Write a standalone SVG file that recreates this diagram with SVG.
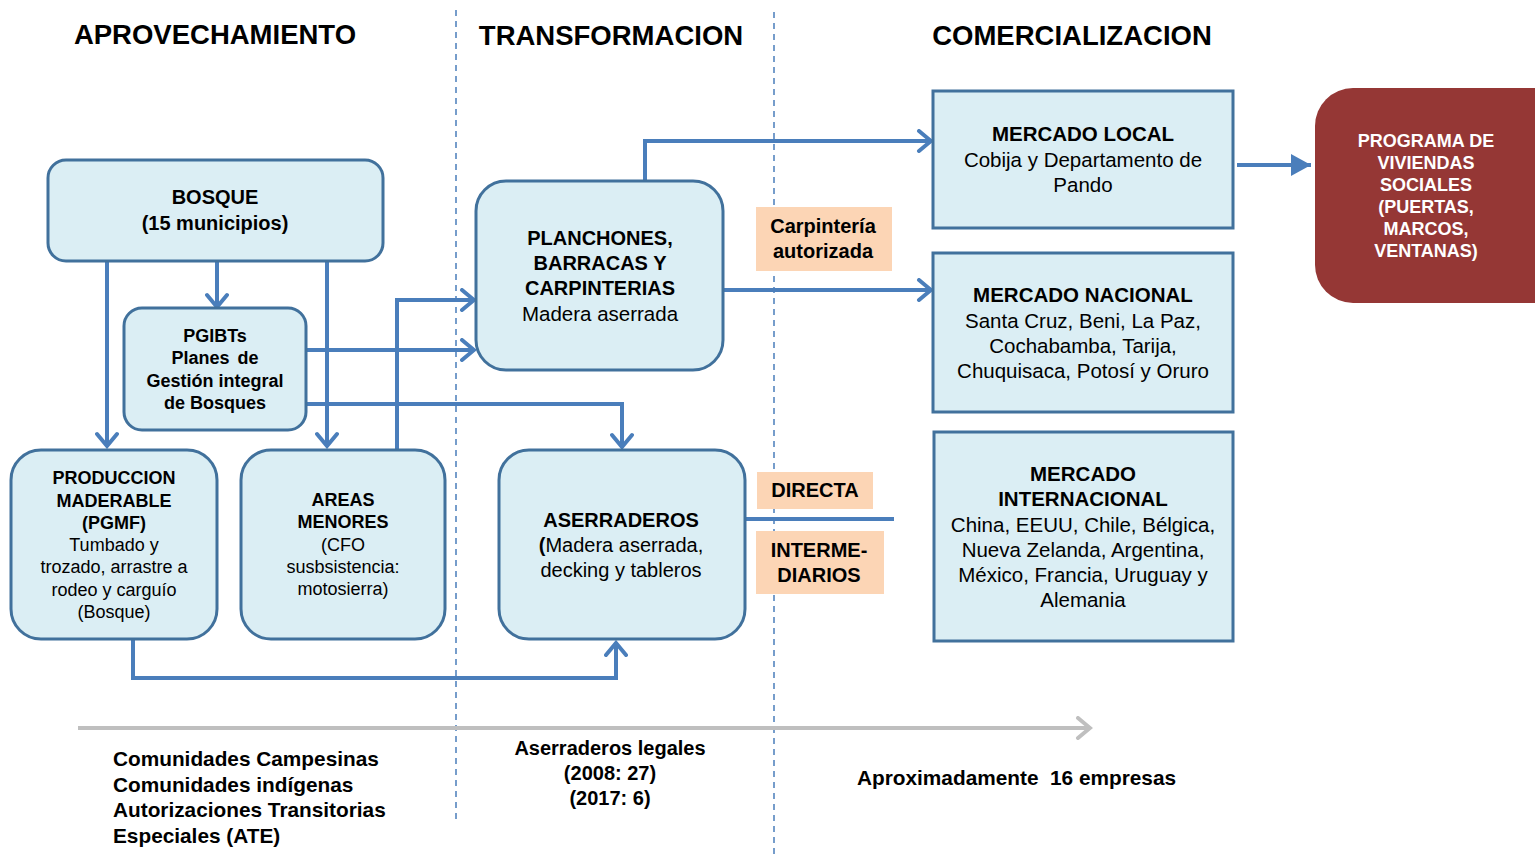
<svg xmlns="http://www.w3.org/2000/svg" width="1535" height="856" viewBox="0 0 1535 856">
<style>
text{font-family:"Liberation Sans",Arial,sans-serif;fill:#000;text-anchor:middle}
.t{font-size:27.5px;font-weight:bold}
.b{font-weight:bold}
.n{fill:#DBEEF4;stroke:#41719C;stroke-width:3}
.lab{fill:#FCD5B5}
.c{fill:none;stroke:#4A7EBB;stroke-width:4}
.dash{stroke:#4A7EBB;stroke-width:1.5;stroke-dasharray:6 5}
.s18{font-size:18px}
.s20{font-size:20px}
.s205{font-size:20.5px}
.bot{font-size:20.8px;font-weight:bold;text-anchor:start}
.w{fill:#fff}
</style>
<defs>
<marker id="ar" viewBox="0 0 24 24" refX="21" refY="12" markerWidth="24" markerHeight="24" markerUnits="userSpaceOnUse" orient="auto">
<path d="M9,2 L21,12 L9,22" fill="none" stroke="#4A7EBB" stroke-width="4" stroke-linecap="round" stroke-linejoin="miter"/>
</marker>
<marker id="tri" viewBox="0 0 24 24" refX="22" refY="12" markerWidth="24" markerHeight="24" markerUnits="userSpaceOnUse" orient="auto">
<path d="M2,1 L22,12 L2,23 Z" fill="#4A7EBB"/>
</marker>
<marker id="gar" viewBox="0 0 24 24" refX="21" refY="12" markerWidth="24" markerHeight="24" markerUnits="userSpaceOnUse" orient="auto">
<path d="M9,2 L21,12 L9,22" fill="none" stroke="#BFBFBF" stroke-width="4" stroke-linecap="round"/>
</marker>
</defs>
<rect width="1535" height="856" fill="#fff"/>

<g id="headers">
<text class="t" x="215" y="44">APROVECHAMIENTO</text>
<text class="t" x="611" y="45">TRANSFORMACION</text>
<text class="t" x="1072" y="45">COMERCIALIZACION</text>
</g>

<g id="dividers">
<line class="dash" x1="456" y1="10" x2="456" y2="822"/>
<line class="dash" x1="774" y1="12" x2="774" y2="856"/>
</g>

<g id="connectors">
<path class="c" d="M107,261 V446" marker-end="url(#ar)"/>
<path class="c" d="M217,261 V307" marker-end="url(#ar)"/>
<path class="c" d="M327,261 V446" marker-end="url(#ar)"/>
<path class="c" d="M306,350 H474" marker-end="url(#ar)"/>
<path class="c" d="M306,404 H622 V447" marker-end="url(#ar)"/>
<path class="c" d="M397,450 V300 H474" marker-end="url(#ar)"/>
<path class="c" d="M133,640 V678 H616 V643" marker-end="url(#ar)"/>
<path class="c" d="M645,181 V141 H931" marker-end="url(#ar)"/>
<path class="c" d="M724,290 H931" marker-end="url(#ar)"/>
<path class="c" d="M745,519 H894"/>
<path class="c" d="M1237,165 H1311" marker-end="url(#tri)"/>
<path d="M78,728 H1090" fill="none" stroke="#BFBFBF" stroke-width="4" marker-end="url(#gar)"/>
</g>

<g id="bosque">
<rect class="n" x="48" y="160" width="335" height="101" rx="18"/>
<text class="b s20" x="215" y="204">BOSQUE</text>
<text class="b s20" x="215" y="230">(15 municipios)</text>
</g>

<g id="pgibts">
<rect class="n" x="124" y="308" width="182" height="122" rx="18"/>
<text class="b s18" x="215" y="342">PGIBTs</text>
<text class="b s18" x="215" y="364" word-spacing="3">Planes de</text>
<text class="b s18" x="215" y="387">Gestión integral</text>
<text class="b s18" x="215" y="409">de Bosques</text>
</g>

<g id="produccion">
<rect class="n" x="11" y="450" width="206" height="189" rx="30"/>
<text class="b s18" x="114" y="484">PRODUCCION</text>
<text class="b s18" x="114" y="507">MADERABLE</text>
<text class="b s18" x="114" y="529">(PGMF)</text>
<text class="s18" x="114" y="551">Tumbado y</text>
<text class="s18" x="114" y="573">trozado, arrastre a</text>
<text class="s18" x="114" y="596">rodeo y carguío</text>
<text class="s18" x="114" y="618">(Bosque)</text>
</g>

<g id="areas">
<rect class="n" x="241" y="450" width="204" height="189" rx="30"/>
<text class="b s18" x="343" y="506">AREAS</text>
<text class="b s18" x="343" y="528">MENORES</text>
<text class="s18" x="343" y="551">(CFO</text>
<text class="s18" x="343" y="573">susbsistencia:</text>
<text class="s18" x="343" y="595">motosierra)</text>
</g>

<g id="planchones">
<rect class="n" x="476" y="181" width="247" height="189" rx="30"/>
<text class="b s20" x="600" y="245">PLANCHONES,</text>
<text class="b s20" x="600" y="270">BARRACAS Y</text>
<text class="b s20" x="600" y="295">CARPINTERIAS</text>
<text class="s205" x="600" y="321">Madera aserrada</text>
</g>

<g id="aserraderos">
<rect class="n" x="499" y="450" width="246" height="189" rx="30"/>
<text class="b s20" x="621" y="527">ASERRADEROS</text>
<text class="s20" x="621" y="552"><tspan class="b">(</tspan>Madera aserrada,</text>
<text class="s20" x="621" y="577">decking y tableros</text>
</g>

<g id="carpinteria-autorizada">
<rect class="lab" x="756" y="207" width="136" height="64"/>
<text class="b s20" x="823" y="233">Carpintería</text>
<text class="b s20" x="823" y="258">autorizada</text>
</g>

<g id="directa">
<rect class="lab" x="757" y="472" width="116" height="37"/>
<text class="b s20" x="815" y="497">DIRECTA</text>
</g>

<g id="intermediarios">
<rect class="lab" x="756" y="531" width="128" height="63"/>
<text class="b s20" x="819" y="557">INTERME-</text>
<text class="b s20" x="819" y="582">DIARIOS</text>
</g>

<g id="mercado-local">
<rect class="n" x="933" y="91" width="300" height="137"/>
<text class="b s205" x="1083" y="141">MERCADO LOCAL</text>
<text class="s205" x="1083" y="167">Cobija y Departamento de</text>
<text class="s205" x="1083" y="192">Pando</text>
</g>

<g id="mercado-nacional">
<rect class="n" x="933" y="253" width="300" height="159"/>
<text class="b s205" x="1083" y="302">MERCADO NACIONAL</text>
<text class="s205" x="1083" y="328">Santa Cruz, Beni, La Paz,</text>
<text class="s205" x="1083" y="353">Cochabamba, Tarija,</text>
<text class="s205" x="1083" y="378">Chuquisaca, Potosí y Oruro</text>
</g>

<g id="mercado-internacional">
<rect class="n" x="934" y="432" width="299" height="209"/>
<text class="b s205" x="1083" y="481">MERCADO</text>
<text class="b s205" x="1083" y="506">INTERNACIONAL</text>
<text class="s205" x="1083" y="532">China, EEUU, Chile, Bélgica,</text>
<text class="s205" x="1083" y="557">Nueva Zelanda, Argentina,</text>
<text class="s205" x="1083" y="582">México, Francia, Uruguay y</text>
<text class="s205" x="1083" y="607">Alemania</text>
</g>

<g id="programa">
<rect x="1315" y="88" width="260" height="215" rx="38" fill="#953735"/>
<text class="b s18 w" x="1426" y="147">PROGRAMA DE</text>
<text class="b s18 w" x="1426" y="169">VIVIENDAS</text>
<text class="b s18 w" x="1426" y="191">SOCIALES</text>
<text class="b s18 w" x="1426" y="213">(PUERTAS,</text>
<text class="b s18 w" x="1426" y="235">MARCOS,</text>
<text class="b s18 w" x="1426" y="257">VENTANAS)</text>
</g>

<g id="bottom-notes">
<text class="bot" x="113" y="766">Comunidades Campesinas</text>
<text class="bot" x="113" y="792">Comunidades indígenas</text>
<text class="bot" x="113" y="817">Autorizaciones Transitorias</text>
<text class="bot" x="113" y="843">Especiales (ATE)</text>
<text class="b s20" x="610" y="755">Aserraderos legales</text>
<text class="b s20" x="610" y="780">(2008: 27)</text>
<text class="b s20" x="610" y="805">(2017: 6)</text>
<text class="bot" x="857" y="785" xml:space="preserve">Aproximadamente  16 empresas</text>
</g>
</svg>
